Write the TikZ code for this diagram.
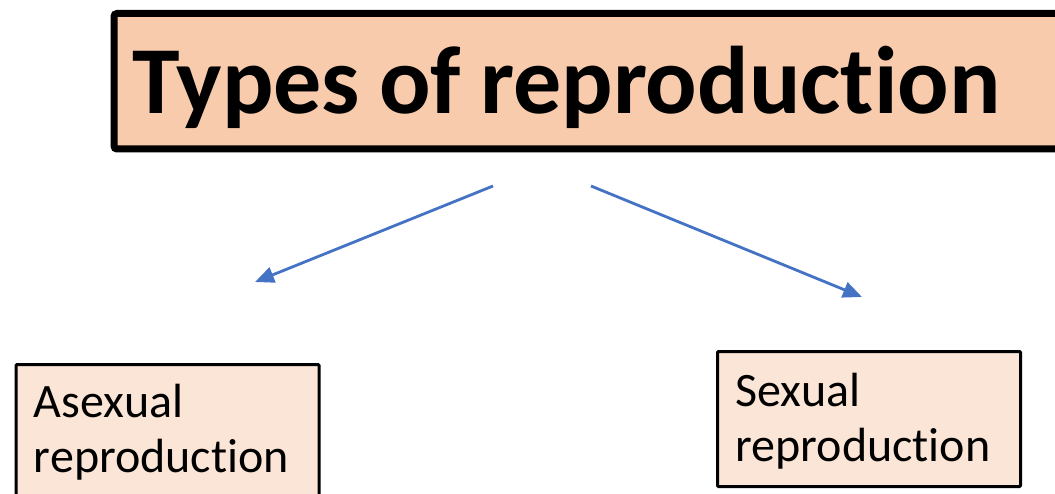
\documentclass[tikz,border=0pt]{standalone}
\usepackage{fontspec}
\setmainfont[Ligatures=NoCommon, RawFeature={-liga,-calt,-clig,-dlig}]{Carlito}
\usetikzlibrary{arrows.meta}
\definecolor{titlefill}{HTML}{F8CBAD}
\definecolor{boxfill}{HTML}{FBE5D6}
\definecolor{arrowblue}{HTML}{4472C4}
\tikzset{
  titlebox/.style={draw=black, fill=titlefill, line width=7pt, rounded corners=3pt, anchor=north west,
    inner xsep=18pt, inner ysep=0pt, align=left, font=\fontsize{96}{115}\selectfont\bfseries,
    execute at begin node={\spaceskip=19pt\relax}},
  typebox/.style={draw=black, fill=boxfill, line width=3pt, rounded corners=1pt, anchor=north west,
    inner xsep=18pt, inner ysep=0pt, text width=267pt, align=left, font=\fontsize{48}{55}\selectfont},
  typearrow/.style={draw=arrowblue, line width=2.8pt, -{Triangle[length=19pt, width=16pt]}}
}
\begin{document}
\begin{tikzpicture}[x=1pt, y=-1pt]
\clip (0,0) rectangle (1055,494);
\node[titlebox, text width=933pt, text height=100pt, text depth=35.5pt] (types) at (110.5,10) {Types of reproduction};
\node[typebox, text height=53pt, text depth=160pt] (asexual) at (14.5,363) {Asexual\\reproduction};
\node[typebox, text height=55pt, text depth=80pt] (sexual) at (716,350) {Sexual\\reproduction};
\foreach \x\y\t in {493/186/a1,255/282/a2,591/186/s1,862/297/s2}
\coordinate (\t) at (\x,\y);
\draw[typearrow] (a1)--(a2);
\draw[typearrow] (s1)--(s2);
\end{tikzpicture}
\end{document}
